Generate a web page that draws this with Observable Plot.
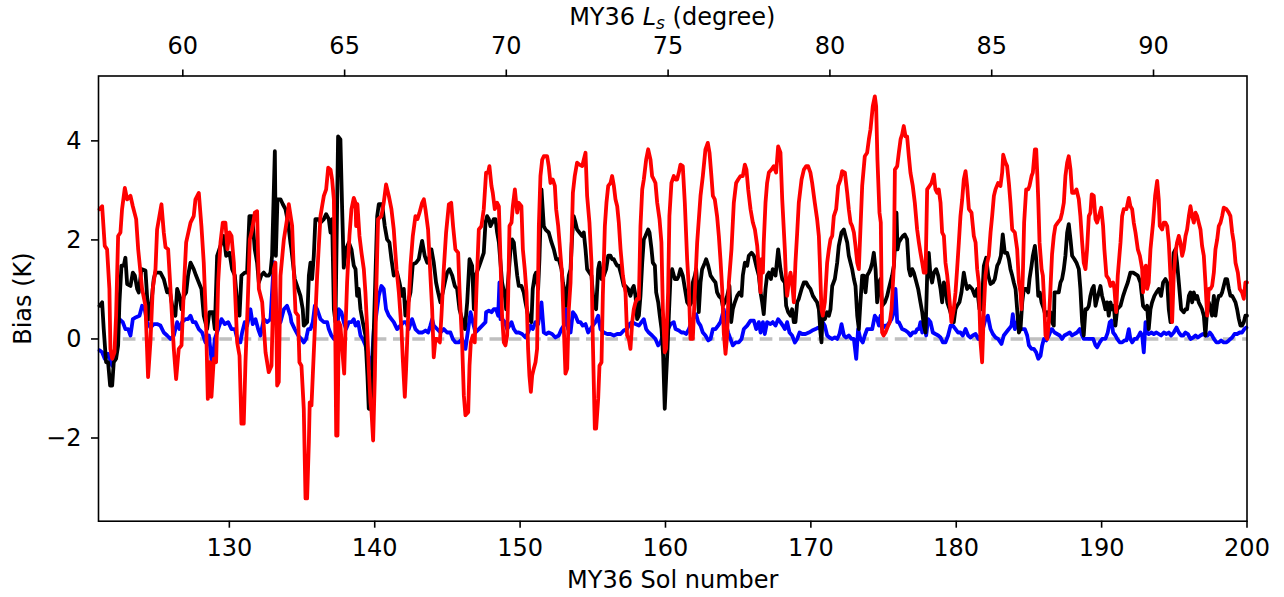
<!DOCTYPE html>
<html><head><meta charset="utf-8">
<script src="https://cdn.jsdelivr.net/npm/d3@7"></script>
<script src="https://cdn.jsdelivr.net/npm/@observablehq/plot@0.6"></script>
<style>body{margin:0;background:#fff;} svg{font-family:"DejaVu Sans",sans-serif;}</style>
</head><body><div id="chart"></div>
<script>
// axis ticks
const solTicks = [130,140,150,160,170,180,190,200];
const biasTicks = [-2,0,2,4];
const lsTicks = [60,65,70,75,80,85,90];
const lsTickSols = [126.80,137.93,149.05,160.18,171.31,182.44,193.57];
const zeroLine = [[122.67,0],[200,0]];

// series: [sol, bias K]
const redSeries = [
[121.07,2.62],[121.25,2.68],[121.43,1.88],[121.59,1.81],[121.75,1.01],[121.82,-0.20],[121.94,-0.40],[122.10,-0.27],[122.21,0.47],[122.35,2.08],[122.51,2.15],[122.62,2.62],[122.81,3.05],[122.97,2.82],[123.20,2.89],[123.36,2.68],[123.59,2.42],[123.73,1.81],[124.00,1.01],[124.23,0.67],[124.41,-0.77],[124.57,-0.07],[124.73,1.01],[124.92,1.41],[125.03,2.21],[125.19,2.48],[125.33,2.72],[125.49,2.15],[125.61,1.85],[125.79,1.81],[125.95,1.01],[126.18,-0.20],[126.34,-0.81],[126.52,-0.20],[126.71,-0.13],[126.87,1.01],[127.03,1.95],[127.33,2.35],[127.55,2.48],[127.67,2.82],[127.90,2.95],[128.08,2.28],[128.24,1.54],[128.40,0.34],[128.52,-1.21],[128.66,-0.47],[128.77,-1.17],[128.93,-0.40],[129.09,-0.47],[129.23,1.14],[129.39,1.95],[129.55,2.35],[129.73,2.35],[129.87,1.81],[130.01,2.15],[130.15,2.08],[130.31,1.54],[130.54,-0.07],[130.70,-0.34],[130.83,-1.71],[130.99,-1.71],[131.11,-0.47],[131.25,0.60],[131.41,2.01],[131.57,2.21],[131.75,2.55],[131.91,2.58],[132.03,1.01],[132.26,0.74],[132.49,-0.27],[132.71,-0.67],[132.90,-0.54],[133.06,1.41],[133.17,1.54],[133.29,-0.94],[133.40,-0.87],[133.52,1.28],[133.75,2.01],[133.97,2.42],[134.09,2.72],
[134.32,2.28],[134.43,1.41],[134.55,0.54],[134.73,0.47],[134.82,-0.47],[134.96,-0.54],[135.12,-1.41],[135.24,-3.22],[135.35,-3.22],[135.47,-2.08],[135.53,-1.28],[135.65,-1.34],[135.74,-0.74],[135.88,0.20],[136.04,1.28],[136.27,2.48],[136.38,2.68],[136.50,2.89],[136.66,3.02],[136.80,3.46],[136.96,3.42],[137.07,3.22],[137.19,2.82],[137.25,1.28],[137.35,-1.95],[137.44,-1.95],[137.53,0.34],[137.64,0.27],[137.76,-0.20],[137.90,-0.70],[137.99,0.20],[138.10,1.14],[138.26,2.08],[138.40,2.62],[138.56,2.85],[138.68,2.75],[138.72,2.28],[138.81,2.72],[138.95,2.08],[139.09,1.74],[139.25,1.41],[139.36,0.94],[139.48,0.20],[139.59,-0.60],[139.71,-1.28],[139.78,-1.48],[139.89,-2.05],[140.01,-0.74],[140.12,1.14],[140.23,2.42],[140.46,2.48],[140.62,2.75],[140.78,3.12],[140.97,2.89],[141.15,2.62],[141.31,2.21],[141.50,1.41],[141.66,0.94],[141.84,0.20],[141.93,-0.40],[142.07,-1.17],[142.16,-0.60],[142.30,0.47],[142.46,1.48],[142.62,2.08],[142.80,2.48],[142.94,2.42],[143.08,2.55],[143.26,2.75],[143.38,2.82],[143.49,2.62],[143.67,2.21],[143.83,1.28],[143.95,0.60],[144.06,-0.37],[144.18,0.00],[144.29,0.00],[144.48,-0.07],[144.59,0.47],[144.75,1.41],[144.91,2.15],[145.10,2.72],[145.26,2.75],[145.39,2.28],[145.55,1.81],[145.74,1.74],[145.83,1.01],[146.01,-0.07],[146.13,-1.14],[146.24,-1.54],[146.43,-1.48],[146.52,-0.54],[146.61,-0.07],[146.75,0.07],[146.88,-0.07],[147.00,1.01],[147.16,2.21],[147.34,2.28],[147.50,2.62],
[147.66,3.36],[147.80,3.36],[147.89,3.49],[148.03,3.09],[148.12,2.95],[148.26,2.62],[148.42,2.75],[148.54,2.68],[148.65,1.61],[148.76,0.47],[148.88,-0.07],[148.99,-0.13],[149.11,0.07],[149.18,0.87],[149.27,2.28],[149.41,2.35],[149.50,2.68],[149.64,3.02],[149.73,2.75],[149.80,2.55],[149.91,2.75],[150.09,2.68],[150.19,1.81],[150.32,1.41],[150.44,0.94],[150.55,-0.20],[150.64,-0.74],[150.74,-1.07],[150.83,-0.74],[150.94,-0.60],[151.06,-0.47],[151.17,-0.20],[151.29,2.28],[151.40,3.29],[151.52,3.62],[151.63,3.69],[151.86,3.69],[151.97,3.49],[152.09,3.15],[152.25,3.22],[152.39,3.09],[152.48,2.62],[152.62,2.28],[152.71,1.95],[152.80,1.61],[152.89,1.28],[153.01,0.20],[153.12,-0.70],[153.24,-0.60],[153.35,0.60],[153.47,1.14],[153.63,2.95],[153.76,3.29],[153.92,3.56],[154.08,3.52],[154.27,3.49],[154.38,3.62],[154.50,3.76],[154.61,2.89],[154.77,2.35],[154.91,1.54],[155.00,0.00],[155.14,-1.81],[155.23,-1.81],[155.37,-1.21],[155.46,-0.54],[155.60,-0.47],[155.69,0.87],[155.83,2.28],[155.94,2.75],[156.06,3.09],[156.22,3.15],[156.33,3.29],[156.45,3.09],[156.56,2.82],[156.68,2.68],[156.79,2.35],[156.91,1.81],[157.07,1.28],[157.25,0.94],[157.36,0.07],[157.48,0.00],[157.59,-0.20],[157.71,0.34],[157.82,0.60],[157.94,0.74],[158.05,0.81],[158.17,0.81],[158.28,2.28],[158.40,3.02],[158.51,3.22],[158.67,3.62],[158.81,3.83],[158.97,3.62],[159.08,3.29],[159.20,3.22],[159.31,3.15],[159.43,2.75],[159.59,2.42],[159.72,1.95],[159.82,0.60],[159.95,-0.27],[160.04,-0.20],[160.18,0.94],[160.27,2.48],[160.41,3.15],[160.57,3.29],[160.69,3.22],
[160.80,3.22],[160.92,3.36],[161.03,3.52],[161.19,3.49],[161.33,2.75],[161.49,1.61],[161.61,1.01],[161.72,0.00],[161.88,0.00],[162.02,0.94],[162.18,1.95],[162.41,2.89],[162.57,3.29],[162.75,3.83],[162.91,3.96],[163.03,3.76],[163.16,3.29],[163.26,2.89],[163.39,2.82],[163.55,2.48],[163.67,2.08],[163.78,1.61],[163.90,1.01],[164.01,0.13],[164.13,-0.30],[164.24,0.07],[164.36,1.14],[164.54,1.81],[164.70,2.75],[164.86,3.15],[165.00,3.22],[165.16,3.29],[165.32,3.29],[165.46,3.52],[165.57,3.42],[165.69,3.02],[165.85,2.62],[166.01,2.35],[166.15,2.21],[166.31,1.88],[166.42,1.41],[166.54,0.94],[166.60,1.61],[166.70,1.34],[166.76,1.95],[166.88,2.75],[166.99,3.15],[167.11,3.36],[167.29,3.42],[167.45,3.49],[167.61,3.36],[167.75,3.89],[167.91,3.76],[168.03,2.82],[168.21,1.81],[168.30,1.14],[168.37,0.87],[168.48,1.14],[168.60,1.34],[168.71,1.14],[168.83,0.74],[168.94,1.54],[169.06,2.15],[169.17,2.75],[169.36,3.22],[169.52,3.42],[169.68,3.49],[169.81,3.49],[169.97,3.36],[170.09,3.15],[170.27,2.75],[170.43,2.42],[170.55,2.08],[170.62,1.54],[170.73,0.60],[170.82,0.47],[170.96,0.74],[171.12,1.54],[171.24,1.81],[171.35,2.01],[171.47,2.08],[171.58,2.48],[171.74,2.62],[171.88,3.09],[172.04,3.22],[172.15,3.39],[172.34,3.36],[172.50,2.95],[172.61,2.62],[172.73,2.35],[172.84,2.28],[172.96,2.15],[173.07,1.88],[173.19,1.54],[173.30,1.41],
[173.53,3.09],[173.71,3.69],[173.87,3.76],[173.99,4.03],[174.10,4.23],[174.26,4.70],[174.40,4.90],[174.49,4.70],[174.58,3.62],[174.72,2.55],[174.81,2.35],[174.90,0.13],[175.00,0.07],[175.13,0.13],[175.32,0.27],[175.43,0.34],[175.55,0.60],[175.71,1.48],[175.78,3.42],[175.94,3.49],[176.05,3.76],[176.17,4.03],[176.28,4.13],[176.39,4.30],[176.51,4.09],[176.62,4.09],[176.74,3.69],[176.85,3.36],[177.01,3.09],[177.15,2.75],[177.31,2.21],[177.43,1.95],[177.54,1.74],[177.66,1.54],[177.77,1.34],[177.89,1.34],[178.00,3.02],[178.16,3.09],[178.30,3.15],[178.46,3.32],[178.57,3.02],[178.69,2.95],[178.80,3.02],[178.92,2.75],[179.03,2.15],[179.15,2.08],[179.26,1.54],[179.38,1.28],[179.49,0.94],[179.67,0.34],[179.83,0.60],[179.95,0.94],[180.06,1.41],[180.18,1.95],[180.29,2.48],[180.41,2.82],[180.52,3.22],[180.64,3.39],[180.75,3.09],[180.87,2.62],[181.05,2.55],[181.21,2.08],[181.33,1.95],[181.44,1.41],[181.55,1.14],[181.60,0.60],[181.67,-0.07],[181.78,-0.47],[181.90,0.60],[182.01,1.28],[182.13,1.54],[182.24,1.68],[182.36,2.15],[182.47,2.48],[182.59,2.89],[182.70,3.02],[182.88,3.15],[183.04,3.09],[183.16,3.36],[183.23,3.72],[183.39,3.56],[183.50,3.49],[183.62,3.15],[183.73,2.75],[183.85,2.21],[184.03,2.15],[184.19,1.81],[184.31,1.14],[184.42,0.94],[184.49,0.60],[184.58,1.28],[184.67,2.35],[184.81,3.02],[184.95,3.02],[185.04,3.09],[185.18,3.29],[185.27,3.36],[185.41,3.83],[185.50,3.83],[185.57,3.36],[185.64,2.82],[185.73,1.95],[185.87,1.41],[185.96,1.28],[186.05,0.74],[186.14,0.07],[186.26,0.00],[186.37,0.34],[186.48,1.01],
[186.59,1.71],[186.71,2.08],[186.82,2.28],[186.98,2.35],[187.17,2.42],[187.28,2.55],[187.40,2.75],[187.51,3.29],[187.63,3.56],[187.74,3.69],[187.86,3.42],[187.97,2.95],[188.13,2.95],[188.27,3.02],[188.43,2.82],[188.54,2.48],[188.66,1.95],[188.77,1.54],[188.89,1.41],[189.00,1.81],[189.12,2.48],[189.23,2.55],[189.32,2.92],[189.46,2.89],[189.58,2.42],[189.69,2.35],[189.81,2.48],[189.97,2.65],[190.10,2.28],[190.19,1.81],[190.33,1.28],[190.49,1.21],[190.61,1.07],[190.79,1.14],[190.88,1.01],[191.00,0.54],[191.11,1.28],[191.30,1.95],[191.41,2.48],[191.52,2.62],[191.71,2.62],[191.87,2.85],[191.98,2.68],[192.10,2.62],[192.21,2.35],[192.33,2.15],[192.49,1.81],[192.63,1.68],[192.79,1.41],[192.85,0.94],[192.95,1.34],[193.04,1.48],[193.13,1.01],[193.24,1.14],[193.36,1.81],[193.54,2.35],[193.68,2.89],[193.82,3.19],[193.93,2.82],[194.00,2.28],[194.16,2.21],[194.28,2.35],[194.39,2.35],[194.51,2.28],[194.62,1.95],[194.69,1.54],[194.78,1.01],[194.85,0.34],[194.96,1.28],[195.08,1.74],[195.19,1.95],[195.31,2.08],[195.42,1.95],[195.54,1.68],[195.65,1.81],[195.77,2.08],[195.88,2.21],[196.00,2.48],[196.11,2.68],[196.23,2.48],[196.34,2.35],[196.46,2.55],[196.57,2.48],[196.68,2.35],[196.80,2.21],[196.91,1.88],[197.03,1.68],[197.14,1.14],[197.26,0.47],[197.37,1.01],[197.49,1.01],[197.60,1.07],[197.72,1.34],[197.83,1.81],[197.95,2.01],[198.06,2.28],[198.18,2.35],[198.29,2.48],[198.40,2.65],[198.59,2.62],[198.75,2.55],[198.86,2.48],[198.98,2.15],[199.09,1.95],[199.21,1.54],[199.37,1.34],[199.50,1.01],[199.66,0.94],[199.78,0.81],[199.89,1.14],[200.00,1.14]
];

const blackSeries = [
[121.07,0.67],[121.25,0.74],[121.36,0.20],[121.52,-0.47],[121.66,-0.47],[121.80,-0.94],[121.94,-0.94],[122.05,-0.47],[122.21,-0.40],[122.35,-0.13],[122.44,0.74],[122.58,1.48],[122.74,1.48],[122.85,1.64],[122.97,1.11],[123.20,1.07],[123.36,1.34],[123.50,1.28],[123.66,1.01],[123.77,0.94],[123.95,1.41],[124.23,1.38],[124.34,0.87],[124.46,0.40],[124.64,0.74],[124.80,1.21],[124.92,1.34],[125.26,1.34],[125.49,1.21],[125.72,0.94],[125.88,1.01],[126.11,0.60],[126.29,0.47],[126.41,1.01],[126.57,0.87],[126.71,0.60],[126.87,0.87],[127.03,0.94],[127.16,1.28],[127.33,1.54],[127.55,1.41],[127.71,1.28],[127.90,1.14],[128.08,1.01],[128.24,0.47],[128.47,0.20],[128.63,0.54],[128.86,0.54],[129.00,0.20],[129.16,1.68],[129.39,1.88],[129.62,2.08],[129.78,1.68],[130.01,1.74],[130.19,1.41],[130.38,1.28],[130.54,0.74],[130.70,0.47],[130.83,1.28],[131.06,1.34],[131.22,1.34],[131.38,2.48],[131.57,2.48],[131.75,1.81],[131.91,1.54],[132.03,1.14],[132.19,1.28],[132.37,1.34],[132.53,1.28],[132.71,1.28],[132.83,1.34],[132.94,1.68],[133.13,3.79],[133.20,1.68],[133.31,2.82],[133.52,2.82],[133.68,2.72],[133.86,2.62],[134.04,2.35],[134.20,1.95],
[134.27,1.81],[134.50,1.21],[134.73,1.01],[134.89,0.87],[135.05,0.60],[135.12,0.27],[135.35,0.34],[135.47,1.28],[135.58,1.54],[135.69,1.21],[135.81,1.68],[135.92,2.42],[136.11,2.42],[136.27,2.35],[136.50,2.42],[136.66,2.52],[136.84,2.42],[136.96,2.15],[137.07,2.42],[137.19,0.60],[137.30,0.34],[137.48,4.09],[137.64,4.03],[137.76,2.62],[137.87,1.44],[138.03,1.81],[138.22,1.95],[138.40,1.81],[138.56,1.48],[138.68,1.41],[138.79,0.87],[138.90,1.01],[139.02,0.60],[139.18,0.34],[139.36,0.07],[139.50,-0.74],[139.59,-1.41],[139.71,-1.41],[139.82,-0.74],[139.94,0.20],[140.05,1.28],[140.17,2.48],[140.28,2.72],[140.51,2.72],[140.69,2.28],[140.85,2.01],[141.01,1.95],[141.15,1.61],[141.31,1.28],[141.54,1.34],[141.70,1.14],[141.89,0.87],[142.00,1.01],[142.11,0.47],[142.30,0.74],[142.46,0.94],[142.62,1.51],[142.85,1.54],[143.03,1.61],[143.15,1.81],[143.26,1.98],[143.44,1.68],[143.61,1.54],[143.72,1.61],[143.90,1.81],[144.06,1.54],[144.22,1.14],[144.36,0.94],[144.52,0.74],[144.68,0.94],[144.82,1.14],[144.98,1.34],[145.14,1.41],[145.33,1.28],[145.51,1.07],[145.67,1.01],[145.83,0.60],[146.01,0.40],[146.20,0.20],[146.36,0.74],[146.52,1.61],[146.70,1.48],[146.82,0.60],[146.93,1.28],[147.11,1.41],[147.27,1.54],[147.50,1.74],
[147.62,2.35],[147.73,2.48],[147.85,2.42],[147.96,2.28],[148.08,2.35],[148.19,2.42],[148.31,2.42],[148.42,2.15],[148.54,1.95],[148.65,1.54],[148.76,1.14],[148.95,0.87],[149.04,0.60],[149.11,0.94],[149.22,1.34],[149.34,1.81],[149.45,2.01],[149.57,1.95],[149.68,1.61],[149.80,1.28],[149.91,1.07],[150.09,1.07],[150.25,0.94],[150.37,0.74],[150.55,0.47],[150.64,0.40],[150.78,0.34],[150.87,1.01],[151.01,1.28],[151.10,1.34],[151.24,1.01],[151.33,1.61],[151.47,3.02],[151.63,2.28],[151.75,2.21],[151.97,2.15],[152.16,1.95],[152.32,1.81],[152.48,1.61],[152.66,1.61],[152.85,1.41],[152.94,1.14],[153.08,0.94],[153.17,0.67],[153.24,0.94],[153.35,1.28],[153.47,1.41],[153.58,2.08],[153.69,2.48],[153.81,2.35],[153.92,2.21],[154.08,2.15],[154.27,2.08],[154.38,2.15],[154.50,1.81],[154.61,1.41],[154.77,1.34],[154.91,1.28],[155.07,0.67],[155.23,0.60],[155.37,1.41],[155.46,1.54],[155.60,1.21],[155.76,1.28],[155.92,1.41],[156.06,1.68],[156.22,1.68],[156.33,1.61],[156.45,1.61],[156.56,1.54],[156.68,1.48],[156.79,1.48],[156.97,1.28],[157.13,1.07],[157.25,1.07],[157.43,1.01],[157.59,0.87],[157.71,1.01],[157.82,1.07],[157.94,0.87],[158.05,0.40],[158.17,0.47],[158.28,0.87],[158.40,1.54],[158.51,2.01],[158.62,2.08],[158.81,2.21],[158.90,2.15],[159.04,1.81],[159.13,1.54],[159.27,1.48],[159.36,0.94],[159.50,0.74],[159.61,0.47],[159.73,0.20],[159.84,-0.34],[159.95,-1.41],[160.05,-0.74],[160.14,-0.20],[160.23,0.47],[160.35,1.28],[160.46,1.41],[160.64,1.21],
[160.80,1.21],[160.92,1.28],[161.03,1.41],[161.19,1.28],[161.38,0.94],[161.49,0.74],[161.65,0.67],[161.79,0.74],[161.88,1.14],[162.02,1.28],[162.11,1.41],[162.20,1.01],[162.29,0.54],[162.41,1.14],[162.52,1.41],[162.71,1.54],[162.80,1.61],[162.94,1.48],[163.10,1.28],[163.26,1.21],[163.44,1.14],[163.55,0.94],[163.67,0.87],[163.85,0.81],[163.94,0.67],[164.08,0.74],[164.24,0.87],[164.40,1.07],[164.52,0.34],[164.63,0.60],[164.77,0.74],[164.93,0.87],[165.09,0.94],[165.23,0.87],[165.32,1.28],[165.46,1.54],[165.62,1.48],[165.73,1.68],[165.92,1.74],[166.08,1.68],[166.24,1.48],[166.42,1.28],[166.54,0.94],[166.65,0.74],[166.76,0.50],[166.88,1.01],[166.99,1.28],[167.11,1.34],[167.25,1.21],[167.38,1.41],[167.57,1.28],[167.75,1.81],[167.91,1.41],[168.03,1.21],[168.21,1.14],[168.30,0.67],[168.44,0.54],[168.60,0.47],[168.71,0.60],[168.83,0.34],[168.94,0.34],[169.06,0.74],[169.17,0.81],[169.36,1.01],[169.52,1.14],[169.68,1.14],[169.81,1.07],[169.97,1.01],[170.14,0.87],[170.27,0.81],[170.43,0.74],[170.55,0.60],[170.66,0.13],[170.73,-0.07],[170.82,0.60],[170.96,0.40],[171.12,0.54],[171.24,0.47],[171.35,0.60],[171.47,1.07],[171.65,1.21],[171.81,1.54],[171.92,1.88],[172.11,2.15],[172.27,2.21],[172.38,2.08],[172.50,1.95],[172.61,1.68],[172.73,1.54],[172.84,1.41],[172.96,1.21],[173.07,1.07],[173.19,0.47],[173.30,0.20],[173.41,0.74],[173.53,1.28],[173.64,1.28],[173.76,0.94],
[173.87,1.28],[173.99,1.34],[174.10,1.41],[174.22,1.54],[174.33,1.74],[174.45,1.41],[174.56,0.74],[174.68,1.14],[174.79,1.21],[174.90,0.67],[175.09,0.74],[175.25,0.87],[175.36,1.01],[175.59,1.28],[175.71,1.48],[175.82,2.08],[175.89,2.55],[175.96,1.81],[176.05,1.95],[176.17,2.01],[176.33,2.08],[176.46,2.11],[176.62,2.01],[176.74,1.41],[176.85,1.28],[176.97,1.41],[177.08,1.34],[177.20,1.21],[177.38,1.01],[177.54,0.74],[177.66,0.54],[177.77,0.27],[177.89,0.13],[178.00,1.28],[178.11,1.74],[178.23,1.28],[178.34,1.14],[178.46,1.34],[178.62,1.41],[178.76,1.28],[178.92,1.01],[179.03,0.74],[179.15,1.14],[179.26,1.07],[179.38,0.74],[179.54,0.60],[179.67,0.47],[179.83,0.34],[179.95,0.60],[180.06,0.67],[180.22,0.74],[180.36,0.94],[180.52,1.34],[180.64,1.14],[180.75,1.01],[180.91,1.07],[181.10,1.01],[181.28,0.87],[181.44,1.01],[181.60,0.60],[181.74,0.60],[181.90,1.48],[182.06,1.64],[182.20,1.28],[182.36,1.11],[182.52,1.14],[182.65,1.21],[182.82,1.48],[182.93,1.54],[183.07,1.68],[183.20,2.11],[183.34,1.74],[183.50,1.74],[183.62,1.61],[183.73,1.41],[183.85,1.28],[183.96,1.14],[184.08,1.01],[184.19,0.60],[184.31,0.13],[184.42,0.20],[184.54,0.74],[184.65,1.01],[184.81,1.01],[184.95,0.94],[185.04,1.21],[185.18,1.48],[185.27,1.68],[185.41,1.88],[185.50,1.61],[185.64,0.87],[185.75,0.94],[185.87,0.74],[186.03,0.60],[186.14,0.47],[186.26,0.54],[186.37,0.47],[186.48,0.54],
[186.59,0.34],[186.71,0.27],[186.76,0.94],[186.89,0.94],[187.05,0.94],[187.17,1.14],[187.28,1.21],[187.40,1.41],[187.51,1.68],[187.63,2.15],[187.74,2.32],[187.86,2.01],[187.97,1.68],[188.13,1.61],[188.27,1.54],[188.43,1.41],[188.54,1.01],[188.66,0.34],[188.77,0.07],[188.89,0.60],[189.00,0.60],[189.12,0.67],[189.23,0.87],[189.35,1.01],[189.46,1.07],[189.58,0.67],[189.69,0.81],[189.81,0.94],[189.92,1.07],[190.03,0.87],[190.15,0.74],[190.26,0.60],[190.38,0.74],[190.49,0.47],[190.61,0.74],[190.72,0.60],[190.84,0.67],[190.95,0.27],[191.07,0.60],[191.30,0.67],[191.48,0.87],[191.64,1.01],[191.80,1.14],[191.98,1.34],[192.17,1.34],[192.33,1.31],[192.49,1.28],[192.67,1.14],[192.85,0.67],[193.02,0.60],[193.13,0.67],[193.24,0.20],[193.36,0.60],[193.47,0.74],[193.63,0.87],[193.77,0.94],[193.93,1.01],[194.09,0.87],[194.23,1.14],[194.39,1.21],[194.51,1.14],[194.62,0.60],[194.74,0.34],[194.85,1.14],[194.96,1.74],[195.08,1.81],[195.19,1.54],[195.31,1.14],[195.47,0.60],[195.65,0.54],[195.77,0.60],[195.88,0.60],[196.00,0.87],[196.11,0.94],[196.23,0.74],[196.34,0.94],[196.46,0.81],[196.57,0.87],[196.68,0.74],[196.80,0.67],[196.91,0.60],[197.03,0.47],[197.14,0.07],[197.26,0.60],[197.37,0.74],[197.49,0.60],[197.60,0.47],[197.72,0.87],[197.83,0.47],[197.95,0.74],[198.06,0.87],[198.18,0.87],[198.29,0.94],[198.40,1.07],[198.52,1.21],[198.63,1.21],[198.75,1.01],[198.86,0.87],[198.98,0.87],[199.09,0.81],[199.21,0.74],[199.32,0.60],[199.44,0.40],[199.55,0.27],[199.66,0.27],[199.78,0.34],[199.89,0.47],[200.00,0.47]
];

const blueSeries = [
[121.07,-0.23],[121.25,-0.27],[121.43,-0.40],[121.66,-0.30],[121.94,-0.54],[122.12,-0.27],[122.28,0.20],[122.44,0.40],[122.67,0.34],[122.85,0.20],[123.04,0.20],[123.20,0.07],[123.36,0.40],[123.59,0.44],[123.82,0.47],[124.00,0.67],[124.18,0.60],[124.34,0.34],[124.57,0.23],[124.80,0.30],[125.03,0.30],[125.26,0.27],[125.49,0.13],[125.72,0.07],[125.95,0.00],[126.18,0.07],[126.41,0.34],[126.57,0.20],[126.75,0.34],[126.98,0.40],[127.16,0.40],[127.33,0.47],[127.49,0.34],[127.67,0.34],[127.90,0.20],[128.13,0.13],[128.36,-0.07],[128.59,0.07],[128.82,-0.54],[129.00,0.00],[129.23,0.20],[129.46,0.40],[129.69,0.30],[129.92,0.34],[130.15,0.20],[130.38,0.20],[130.60,-0.07],[130.76,-0.07],[130.88,0.13],[131.06,0.34],[131.22,0.27],[131.45,0.60],[131.61,0.30],[131.80,0.40],[131.98,0.20],[132.14,0.07],[132.37,0.40],[132.60,0.34],[132.83,0.40],[133.06,1.55],[133.29,0.27],[133.52,0.34],[133.75,0.60],[133.97,0.67],[134.20,0.47],
[134.27,0.34],[134.50,0.20],[134.73,0.07],[134.96,0.00],[135.12,-0.07],[135.28,0.00],[135.42,0.20],[135.58,0.20],[135.74,0.34],[135.88,0.67],[136.04,0.60],[136.27,0.40],[136.50,0.34],[136.73,0.34],[136.84,0.20],[137.02,0.07],[137.19,0.00],[137.41,0.13],[137.53,0.60],[137.71,0.54],[137.87,0.34],[138.03,0.20],[138.22,0.34],[138.40,0.34],[138.56,0.40],[138.68,0.27],[138.86,0.34],[139.02,0.07],[139.18,0.00],[139.36,-0.13],[139.55,-0.34],[139.78,-0.60],[139.94,0.20],[140.10,0.47],[140.28,0.87],[140.46,1.07],[140.62,1.01],[140.78,0.60],[140.97,0.47],[141.15,0.40],[141.31,0.34],[141.54,0.20],[141.77,0.27],[142.00,0.34],[142.16,0.34],[142.34,0.20],[142.57,0.40],[142.80,0.20],[143.03,0.13],[143.26,0.13],[143.49,0.17],[143.67,0.13],[143.83,0.27],[143.95,0.40],[144.06,0.27],[144.29,0.20],[144.52,0.13],[144.75,0.20],[144.98,0.13],[145.21,0.13],[145.37,0.00],[145.55,-0.07],[145.78,-0.07],[146.01,0.00],[146.24,-0.20],[146.43,0.20],[146.59,0.54],[146.75,0.34],[146.93,0.13],[147.16,0.20],[147.39,0.27],[147.62,0.34],
[147.66,0.54],[147.85,0.57],[148.03,0.54],[148.19,0.60],[148.35,0.60],[148.49,0.47],[148.58,1.14],[148.65,0.40],[148.76,0.40],[148.95,0.34],[149.11,0.20],[149.27,0.27],[149.41,0.34],[149.57,0.20],[149.73,0.13],[149.91,0.13],[150.14,0.10],[150.37,0.03],[150.55,0.13],[150.71,0.27],[150.87,0.20],[151.06,0.34],[151.24,0.30],[151.47,0.74],[151.63,0.13],[151.79,0.10],[151.97,0.13],[152.20,0.10],[152.43,0.03],[152.66,0.07],[152.85,0.20],[153.01,0.27],[153.12,0.60],[153.30,0.20],[153.47,0.13],[153.63,0.54],[153.81,0.47],[153.99,0.34],[154.15,0.34],[154.31,0.27],[154.50,0.30],[154.68,0.13],[154.84,0.20],[155.00,0.27],[155.18,0.34],[155.37,0.47],[155.53,0.20],[155.76,0.13],[155.99,0.10],[156.22,0.10],[156.45,0.07],[156.68,0.10],[156.91,0.10],[157.13,0.17],[157.36,0.20],[157.52,0.30],[157.71,0.34],[157.94,0.30],[158.17,0.27],[158.35,0.34],[158.51,0.40],[158.67,0.20],[158.85,0.13],[159.08,0.07],[159.31,0.00],[159.50,-0.13],[159.66,-0.07],[159.82,0.07],[160.00,0.07],[160.18,0.20],[160.35,0.30],[160.57,0.34],
[160.69,0.20],[160.92,0.17],[161.10,0.13],[161.26,0.13],[161.42,0.10],[161.61,0.20],[161.79,0.34],[161.95,0.44],[162.11,0.50],[162.25,0.34],[162.41,0.27],[162.57,0.13],[162.75,0.07],[162.94,-0.03],[163.10,0.00],[163.26,0.20],[163.44,0.20],[163.62,0.27],[163.78,0.34],[163.90,0.47],[164.01,0.60],[164.13,0.34],[164.31,0.13],[164.47,0.00],[164.63,-0.13],[164.82,-0.07],[165.04,-0.07],[165.23,0.00],[165.39,0.20],[165.62,0.27],[165.85,0.37],[166.08,0.37],[166.24,0.20],[166.42,0.34],[166.54,0.13],[166.70,0.34],[166.83,0.10],[166.99,0.34],[167.22,0.30],[167.38,0.34],[167.57,0.27],[167.75,0.40],[167.91,0.34],[168.07,0.27],[168.21,0.20],[168.37,0.34],[168.53,0.13],[168.71,0.07],[168.90,-0.07],[169.06,0.00],[169.22,0.13],[169.40,0.10],[169.63,0.10],[169.86,0.13],[170.09,0.17],[170.32,0.20],[170.50,0.23],[170.66,0.20],[170.82,0.34],[170.96,0.27],[171.12,0.07],[171.28,0.03],[171.47,0.00],[171.65,0.03],[171.81,0.00],[171.97,0.10],[172.11,0.30],[172.27,0.07],[172.43,0.03],[172.61,0.07],[172.80,0.00],[172.96,0.00],[173.12,-0.40],[173.25,0.20],[173.41,0.00],[173.57,-0.07],
[173.71,0.07],[173.87,0.20],[174.03,0.20],[174.22,0.20],[174.40,0.47],[174.56,0.40],[174.68,0.27],[174.79,0.47],[174.90,0.20],[175.09,0.27],[175.25,0.27],[175.41,0.34],[175.55,0.40],[175.71,0.54],[175.82,1.01],[175.94,0.34],[176.05,0.34],[176.28,0.20],[176.51,0.17],[176.69,0.13],[176.85,0.07],[177.01,0.13],[177.20,0.13],[177.31,0.20],[177.43,0.20],[177.54,0.34],[177.66,0.13],[177.77,0.34],[177.93,0.07],[178.07,0.40],[178.23,0.34],[178.39,0.13],[178.57,0.10],[178.76,0.07],[178.92,0.03],[179.08,-0.07],[179.26,-0.07],[179.44,0.07],[179.61,0.27],[179.77,0.27],[179.95,0.20],[180.13,0.13],[180.29,0.13],[180.45,0.07],[180.64,0.20],[180.82,0.07],[180.98,0.03],[181.14,0.07],[181.33,0.10],[181.51,0.00],[181.67,0.07],[181.83,0.20],[182.01,0.40],[182.17,0.47],[182.36,0.20],[182.52,0.10],[182.70,0.03],[182.88,0.00],[183.11,-0.10],[183.27,0.07],[183.43,0.13],[183.62,0.20],[183.80,0.27],[183.89,0.50],[184.03,0.20],[184.19,0.34],[184.35,0.20],[184.54,0.20],[184.72,0.20],[184.88,0.07],[185.00,-0.13],[185.18,-0.20],[185.34,-0.20],[185.50,-0.27],[185.64,-0.40],[185.80,-0.34],[185.91,-0.13],[186.03,0.00],[186.19,-0.03],[186.37,0.07],[186.55,0.20],
[186.59,0.20],[186.76,0.13],[186.94,0.10],[187.12,0.07],[187.28,0.00],[187.44,0.07],[187.63,0.10],[187.81,0.13],[187.97,0.07],[188.13,0.10],[188.31,0.13],[188.50,0.20],[188.66,0.07],[188.77,0.00],[188.96,0.00],[189.19,0.00],[189.42,0.00],[189.58,-0.13],[189.69,-0.17],[189.87,-0.07],[190.03,0.00],[190.26,0.00],[190.42,0.13],[190.56,0.34],[190.68,0.37],[190.79,0.13],[190.95,0.07],[191.07,0.00],[191.25,-0.07],[191.41,-0.07],[191.57,-0.03],[191.71,-0.03],[191.87,0.20],[191.98,0.00],[192.10,-0.07],[192.26,0.00],[192.40,0.00],[192.56,0.07],[192.67,0.13],[192.79,0.07],[192.90,-0.27],[193.02,0.34],[193.13,0.13],[193.24,0.10],[193.41,0.13],[193.59,0.10],[193.77,0.13],[193.93,0.10],[194.09,0.07],[194.28,0.13],[194.46,0.10],[194.62,0.13],[194.78,0.07],[194.96,0.13],[195.15,0.23],[195.31,0.13],[195.47,0.07],[195.61,0.07],[195.77,0.13],[195.93,0.10],[196.11,0.00],[196.30,0.03],[196.46,0.07],[196.62,0.03],[196.80,0.07],[196.98,0.10],[197.14,0.07],[197.30,0.07],[197.44,0.13],[197.60,0.07],[197.72,0.00],[197.90,-0.07],[198.06,-0.07],[198.22,-0.03],[198.40,-0.07],[198.59,-0.07],[198.75,-0.03],[198.86,0.00],[198.98,0.03],[199.14,0.10],[199.32,0.10],[199.50,0.13],[199.66,0.13],[199.82,0.20],[199.96,0.23]
];

const bySol = (a) => d3.sort(a, d => d[0]);
const X = d => d[0], Y = d => d[1];

const plot = Plot.plot({
  width: 1284,
  height: 597,
  marginLeft: 98,
  marginRight: 37.5,
  marginTop: 75.5,
  marginBottom: 76.3,
  style: {fontFamily: "DejaVu Sans, sans-serif", fontSize: "24px", background: "white", color: "black"},
  x: {domain: [121, 200]},
  y: {domain: [-3.68, 5.31]},
  marks: [
    Plot.line(zeroLine, {x: X, y: Y, stroke: "#bfbfbf", strokeWidth: 3.4, strokeDasharray: "12.7,6.6", strokeLinecap: "butt"}),
    Plot.line(bySol(blueSeries), {x: X, y: Y, stroke: "#0000ff", strokeWidth: 3.8}),
    Plot.line(bySol(blackSeries), {x: X, y: Y, stroke: "#000000", strokeWidth: 3.8}),
    Plot.line(bySol(redSeries), {x: X, y: Y, stroke: "#ff0000", strokeWidth: 3.8}),
    Plot.frame({stroke: "black", strokeWidth: 1.6}),
    Plot.axisX({anchor: "bottom", ticks: solTicks, tickSize: 7, tickPadding: 11, strokeWidth: 1.6, fontSize: 24, label: null}),
    Plot.axisX({anchor: "top", ticks: lsTickSols, tickFormat: d => String(lsTicks[lsTickSols.indexOf(d)]), tickSize: 7, tickPadding: 15, strokeWidth: 1.6, fontSize: 24, label: null}),
    Plot.axisY({anchor: "left", ticks: biasTicks, tickSize: 7, tickPadding: 10, strokeWidth: 1.6, fontSize: 24, label: null}),
    Plot.text(["MY36 Sol number"], {frameAnchor: "bottom", lineAnchor: "bottom", textAnchor: "middle", dy: 67, fontSize: 24, fill: "black"}),
    Plot.text(["Bias (K)"], {frameAnchor: "left", lineAnchor: "middle", textAnchor: "middle", dx: -75, rotate: -90, fontSize: 24, fill: "black"})
  ]
});

// top axis title with italic L and subscript s
const xs = plot.scale("x");
const cx = (xs.range[0] + xs.range[1]) / 2;
const t = d3.select(plot).append("text")
  .attr("x", cx).attr("y", 25)
  .attr("text-anchor", "middle")
  .attr("font-size", 24)
  .attr("font-family", "DejaVu Sans, sans-serif")
  .attr("fill", "black")
  .style("white-space", "pre");
t.append("tspan").text("MY36 ");
t.append("tspan").attr("font-style", "italic").text("L");
t.append("tspan").attr("font-style", "italic").attr("font-size", 17).attr("dy", 4).text("s");
t.append("tspan").attr("dy", -4).text(" (degree)");

document.getElementById("chart").appendChild(plot);
</script>
</body></html>
